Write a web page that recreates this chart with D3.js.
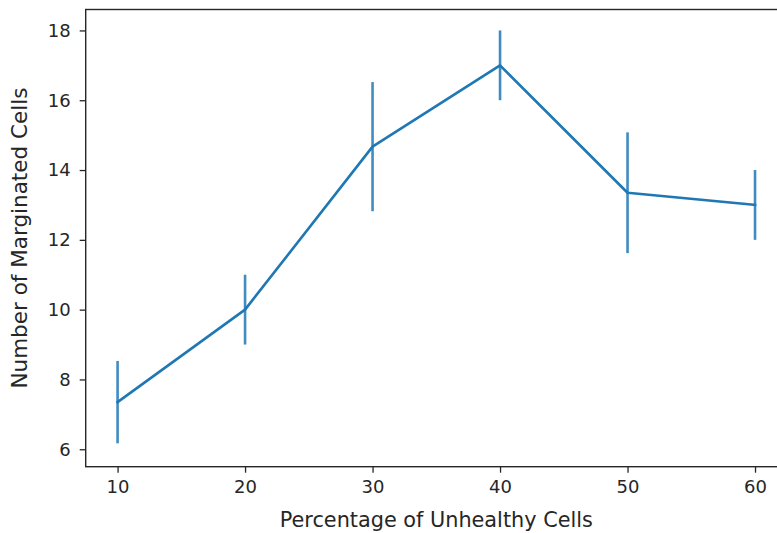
<!DOCTYPE html>
<html>
<head>
<meta charset="utf-8">
<script src="https://cdn.jsdelivr.net/npm/d3@7"></script>
<style>
  html, body { margin: 0; padding: 0; background: #fff; overflow: hidden; }
  text { font-family: "DejaVu Sans", sans-serif; fill: #262626; }
</style>
</head>
<body>
<svg id="chart" width="777" height="533"></svg>
<script>
// Percentage of unhealthy cells vs. number of marginated cells (mean ± error)
const percentages = [10, 20, 30, 40, 50, 60];
const meanCells   = [7.35, 10, 14.67, 17, 13.35, 13];
const errCells    = [1.18, 1, 1.85, 1, 1.73, 1];
const xTicks = [10, 20, 30, 40, 50, 60];
const yTicks = [6, 8, 10, 12, 14, 16, 18];

const data = percentages.map((p, i) => ({ x: p, y: meanCells[i], e: errCells[i] }));

const plot = { left: 85.7, right: 786.9, top: 9.5, bottom: 466.7 };
const blue = "#1f77b4";

const x = d3.scaleLinear().domain([7.5, 62.5]).range([plot.left, plot.right]);
const y = d3.scaleLinear().domain([5.5, 18.6]).range([plot.bottom, plot.top]);

const svg = d3.select("#chart");

// error bars
svg.append("g").selectAll("line").data(data).join("line")
  .attr("x1", d => x(d.x)).attr("x2", d => x(d.x))
  .attr("y1", d => y(d.y - d.e)).attr("y2", d => y(d.y + d.e))
  .attr("stroke", blue).attr("stroke-width", 2.6).attr("stroke-opacity", 0.85);

// mean line
svg.append("path").datum(data)
  .attr("fill", "none").attr("stroke", blue).attr("stroke-width", 2.6)
  .attr("stroke-linejoin", "round").attr("stroke-linecap", "square")
  .attr("d", d3.line().x(d => x(d.x)).y(d => y(d.y)));

// axes
const xAxis = d3.axisBottom(x).tickValues(xTicks).tickSize(6).tickPadding(8).tickFormat(d3.format("d"));
const yAxis = d3.axisLeft(y).tickValues(yTicks).tickSize(6).tickPadding(9).tickFormat(d3.format("d"));

const gx = svg.append("g").attr("transform", `translate(0,${plot.bottom})`).call(xAxis);
const gy = svg.append("g").attr("transform", `translate(${plot.left},0)`).call(yAxis);
[gx, gy].forEach(g => {
  g.select(".domain").remove();
  g.selectAll(".tick line").attr("stroke", "#262626").attr("stroke-width", 1.3);
  g.selectAll(".tick text").attr("font-size", 18).attr("font-family", "DejaVu Sans").attr("fill", "#262626");
});

// frame
svg.append("rect")
  .attr("x", plot.left).attr("y", plot.top)
  .attr("width", plot.right - plot.left).attr("height", plot.bottom - plot.top)
  .attr("fill", "none").attr("stroke", "#262626").attr("stroke-width", 1.4);

// axis labels
svg.append("text")
  .attr("x", (plot.left + plot.right) / 2).attr("y", 527)
  .attr("text-anchor", "middle").attr("font-size", 20.8)
  .text("Percentage of Unhealthy Cells");

svg.append("text")
  .attr("transform", `translate(27,${(plot.top + plot.bottom) / 2}) rotate(-90)`)
  .attr("text-anchor", "middle").attr("font-size", 21.5)
  .text("Number of Marginated Cells");
</script>
</body>
</html>
